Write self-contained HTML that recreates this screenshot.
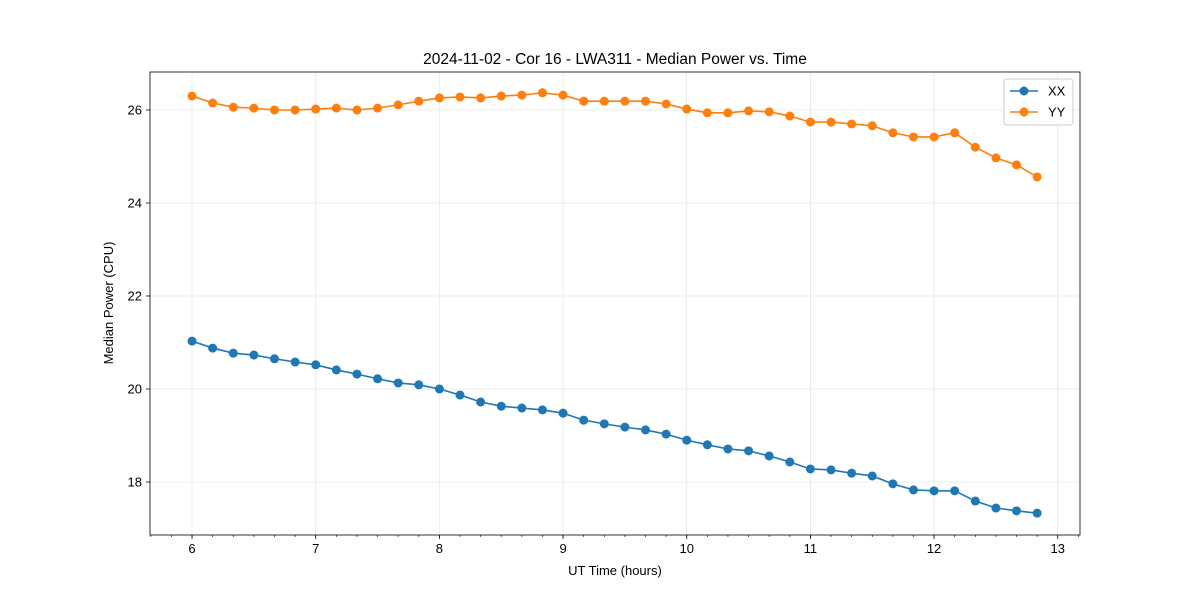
<!DOCTYPE html>
<html><head><meta charset="utf-8"><style>
body{margin:0;background:#fff;font-family:"Liberation Sans","DejaVu Sans",sans-serif;}
</style></head><body>
<svg id="chart" width="1200" height="600" xmlns="http://www.w3.org/2000/svg" font-family="Liberation Sans, DejaVu Sans, sans-serif"></svg>
<script>
const xx = [21.03,20.88,20.77,20.73,20.65,20.58,20.52,20.41,20.32,20.22,20.13,20.09,20.0,19.87,19.72,19.63,19.59,19.55,19.48,19.33,19.25,19.18,19.12,19.03,18.90,18.80,18.71,18.67,18.56,18.43,18.28,18.26,18.19,18.13,17.96,17.83,17.81,17.81,17.59,17.44,17.38,17.33];
const yy = [26.30,26.15,26.06,26.04,26.0,26.0,26.02,26.04,26.0,26.04,26.11,26.19,26.26,26.28,26.26,26.30,26.32,26.37,26.32,26.19,26.19,26.19,26.19,26.13,26.02,25.94,25.94,25.98,25.96,25.87,25.74,25.74,25.70,25.66,25.51,25.42,25.42,25.51,25.20,24.97,24.82,24.56];
const xTicks = [6,7,8,9,10,11,12,13];
const yTicks = [18,20,22,24,26];
const times = xx.map((_, i) => 6 + i / 6);

const L=150,R=1080,T=72,B=535;
const xMin=5.66,xMax=13.18,yMin=16.86,yMax=26.817;
const sx=v=>L+(v-xMin)/(xMax-xMin)*(R-L);
const sy=v=>B-(v-yMin)/(yMax-yMin)*(B-T);
const svg=document.getElementById('chart');
const NS='http://www.w3.org/2000/svg';
function mk(tag,attrs,parent){const e=document.createElementNS(NS,tag);for(const k in attrs)e.setAttribute(k,attrs[k]);(parent||svg).appendChild(e);return e;}

xTicks.forEach(t=>{const l=mk('line',{x1:sx(t),x2:sx(t),y1:T,y2:B,stroke:'#e6e6e6','stroke-width':0.8});

});
yTicks.forEach(t=>{const l=mk('line',{x1:L,x2:R,y1:sy(t),y2:sy(t),stroke:'#e6e6e6','stroke-width':0.8});

});

for(let m=Math.ceil(xMin*6);m<=Math.floor(xMax*6);m++){const v=m/6;const t=mk('line',{x1:sx(v),x2:sx(v),y1:B,y2:B+2,stroke:'#000','stroke-width':0.6});

}
xTicks.forEach(t=>{mk('line',{x1:sx(t),x2:sx(t),y1:B,y2:B+4,stroke:'#000','stroke-width':0.8});
const tx=mk('text',{x:sx(t),y:B+18,'text-anchor':'middle','font-size':13});tx.textContent=t;

});
yTicks.forEach(t=>{mk('line',{x1:L-4,x2:L,y1:sy(t),y2:sy(t),stroke:'#000','stroke-width':0.8});
const tx=mk('text',{x:L-8,y:sy(t)+4.5,'text-anchor':'end','font-size':13});tx.textContent=t;

});

function series(vals,color,name){
  const g=mk('g',{});
  
  
  mk('polyline',{points:vals.map((v,i)=>sx(times[i])+','+sy(v)).join(' '),fill:'none',stroke:color,'stroke-width':1.6},g);
  vals.forEach((v,i)=>{const c=mk('circle',{cx:sx(times[i]),cy:sy(v),r:4.5,fill:color},g);
  
  });
}
series(xx,'#1f77b4','xx');
series(yy,'#ff7f0e','yy');

const fr=mk('rect',{x:L,y:T,width:R-L,height:B-T,fill:'none',stroke:'#000','stroke-width':0.8});



let t=mk('text',{x:615,y:64,'text-anchor':'middle','font-size':15.5});t.textContent='2024-11-02 - Cor 16 - LWA311 - Median Power vs. Time';


t=mk('text',{x:615,y:575,'text-anchor':'middle','font-size':13});t.textContent='UT Time (hours)';


t=mk('text',{x:0,y:0,'text-anchor':'middle','font-size':13,transform:'translate(113,303) rotate(-90)'});t.textContent='Median Power (CPU)';



const lg=mk('g',{});


mk('rect',{x:1004,y:79,width:69,height:46,rx:3,fill:'#fff',stroke:'#ccc','stroke-width':1},lg);
[['XX','#1f77b4',91],['YY','#ff7f0e',112]].forEach(([n,c,y])=>{
  const e=mk('g',{},lg);
  
  
  mk('line',{x1:1010,x2:1038,y1:y,y2:y,stroke:c,'stroke-width':1.6},e);
  mk('circle',{cx:1024,cy:y,r:4.5,fill:c},e);
  const tx=mk('text',{x:1048,y:y+4.5,'font-size':13},e);tx.textContent=n;
});
</script>
</body></html>
